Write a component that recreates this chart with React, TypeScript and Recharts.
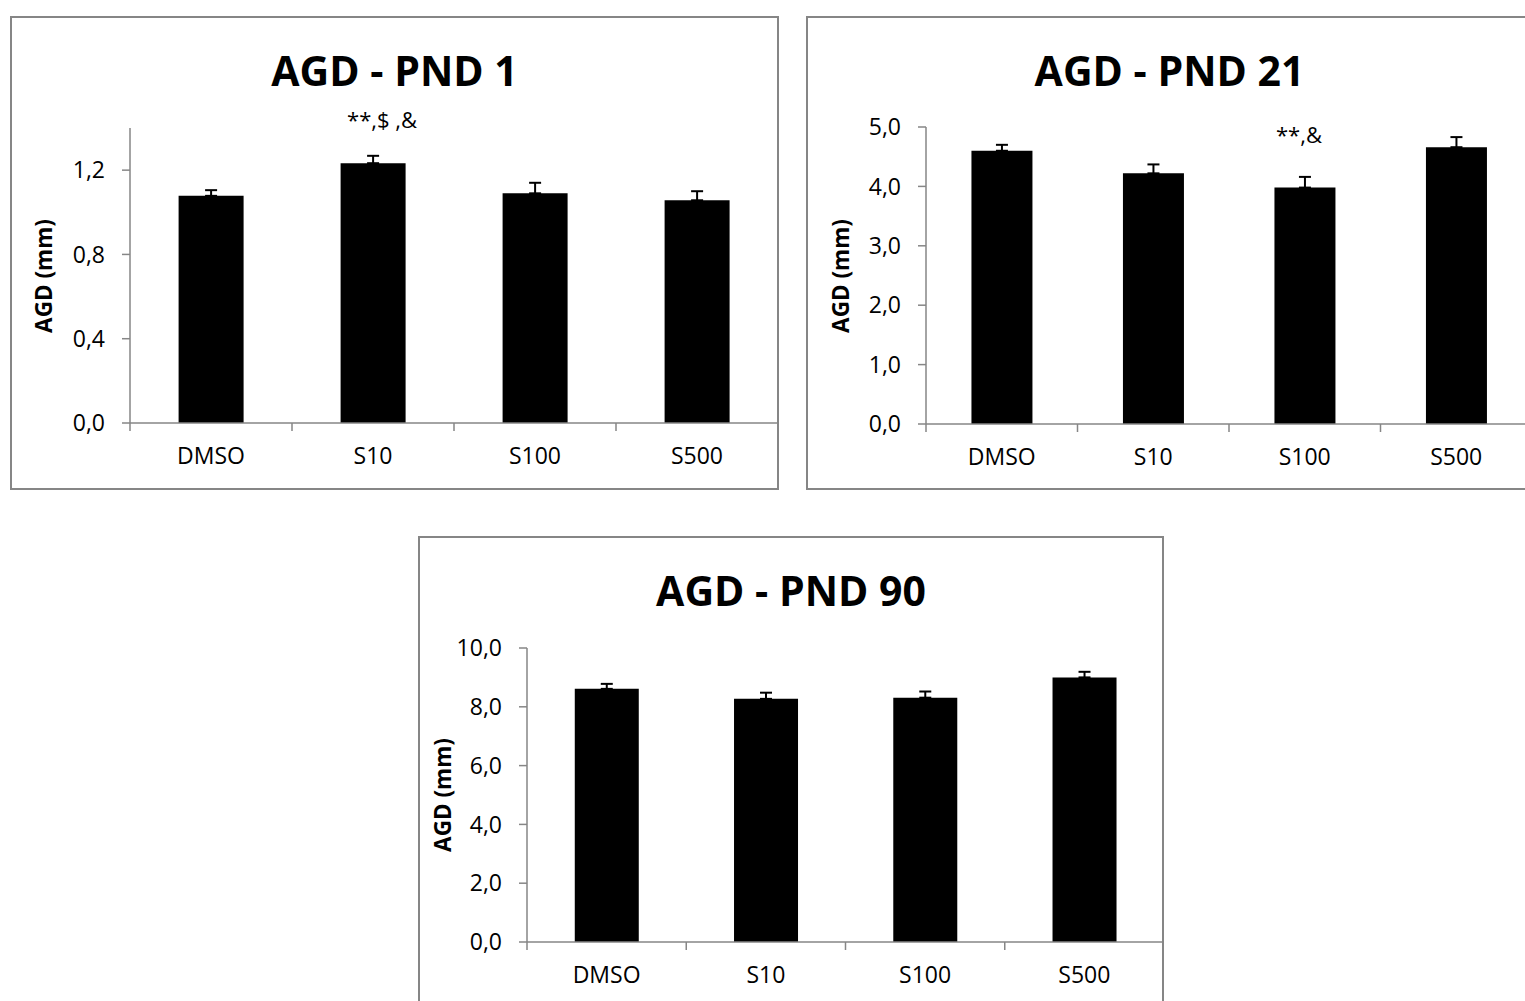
import React from 'react';
import { BarChart, Bar, XAxis, YAxis, ErrorBar, LabelList } from 'recharts';

const categories = ['DMSO', 'S10', 'S100', 'S500'];

const pnd1Means = [1.078, 1.233, 1.09, 1.057];
const pnd1Errors = [0.027, 0.035, 0.05, 0.043];
const pnd1Sig = ['', '**,$ ,&', '', ''];
const pnd1Ticks = [0, 0.4, 0.8, 1.2];

const pnd21Means = [4.6, 4.22, 3.98, 4.66];
const pnd21Errors = [0.1, 0.15, 0.18, 0.17];
const pnd21Sig = ['', '', '**,&', ''];
const pnd21Ticks = [0, 1, 2, 3, 4, 5];

const pnd90Means = [8.61, 8.27, 8.31, 9.0];
const pnd90Errors = [0.17, 0.21, 0.21, 0.19];
const pnd90Sig = ['', '', '', ''];
const pnd90Ticks = [0, 2, 4, 6, 8, 10];

const FONT = '"Open Sans", sans-serif';
const GREY = '#868686';
const TICK_SIZE = 23;

const buildRows = (means: number[], errors: number[], sig: string[]) =>
  categories.map((name, i) => ({ name, mean: means[i], err: [0, errors[i]], sig: sig[i] }));

const fmt = (v: number) => v.toFixed(1).replace('.', ',');

interface PanelProps {
  title: string;
  rows: any[];
  ticks: number[];
  yMax: number;
  box: { left: number; top: number; width: number; height: number };
  plot: { left: number; top: number; right: number; bottom: number };
  yLabelX: number;
  sigDy: number;
  sigDx: number;
}

const Panel = ({ title, rows, ticks, yMax, box, plot, yLabelX, sigDy, sigDx }: PanelProps) => {
  const yAxisWidth = 70;
  const xAxisHeight = 40;
  const margin = {
    top: plot.top - box.top,
    left: plot.left - box.left - yAxisWidth,
    right: box.left + box.width - plot.right,
    bottom: box.top + box.height - plot.bottom - xAxisHeight,
  };
  const half = (plot.right - plot.left) / categories.length / 2;

  const CatTick = (props: any) => {
    const { x, y, payload, index } = props;
    return (
      <g>
        {index === 0 && <line x1={x - half} x2={x - half} y1={y} y2={y + 8} stroke={GREY} strokeWidth={1.5} />}
        {index < categories.length - 1 && (
          <line x1={x + half} x2={x + half} y1={y} y2={y + 8} stroke={GREY} strokeWidth={1.5} />
        )}
        <text x={x} y={y + 35} textAnchor="middle" dominantBaseline="middle" fontSize={TICK_SIZE} fill="#000" fontFamily={FONT}>
          {payload.value}
        </text>
      </g>
    );
  };

  const SigLabel = (props: any) => {
    const { x, y, width, value } = props;
    if (!value) return null;
    return (
      <text x={x + width / 2 + sigDx} y={y + sigDy} textAnchor="middle" dominantBaseline="middle" fontSize={22} fill="#000" fontFamily={FONT}>
        {value}
      </text>
    );
  };

  return (
    <div style={{ position: 'absolute', left: box.left, top: box.top, width: box.width, height: box.height }}>
      <div
        style={{
          position: 'absolute',
          inset: 0,
          border: `2px solid ${GREY}`,
          boxSizing: 'border-box',
          pointerEvents: 'none',
        }}
      />
      <div
        style={{
          position: 'absolute',
          left: 0,
          right: 0,
          top: 54 - 26,
          textAlign: 'center',
          fontSize: 41,
          fontWeight: 700,
          lineHeight: '52px',
          fontFamily: FONT,
        }}
      >
        {title}
      </div>
      <div
        style={{
          position: 'absolute',
          left: yLabelX,
          top: (plot.top + plot.bottom) / 2 - box.top,
          transform: 'translate(-50%, -50%) rotate(-90deg)',
          fontSize: 22.5,
          fontWeight: 700,
          whiteSpace: 'nowrap',
          fontFamily: FONT,
        }}
      >
        AGD (mm)
      </div>
      <div style={{ position: 'absolute', left: 0, top: 0 }}>
        <BarChart width={box.width} height={box.height} data={rows} margin={margin} barCategoryGap="30%">
          <XAxis
            dataKey="name"
            height={xAxisHeight}
            axisLine={{ stroke: GREY, strokeWidth: 1.5 }}
            tickLine={false}
            tickSize={0}
            tickMargin={0}
            tick={<CatTick />}
            interval={0}
          />
          <YAxis
            width={yAxisWidth}
            domain={[0, yMax]}
            ticks={ticks}
            allowDataOverflow
            tickFormatter={fmt}
            axisLine={{ stroke: GREY, strokeWidth: 1.5 }}
            tickLine={{ stroke: GREY, strokeWidth: 1.5 }}
            tickSize={8}
            tickMargin={17}
            tick={{ fontSize: TICK_SIZE, fill: '#000', fontFamily: FONT }}
          />
          <Bar dataKey="mean" fill="#000" isAnimationActive={false}>
            <ErrorBar dataKey="err" width={6} strokeWidth={2} stroke="#000" direction="y" isAnimationActive={false} />
            <LabelList dataKey="sig" content={<SigLabel />} />
          </Bar>
        </BarChart>
      </div>
    </div>
  );
};

export default function App() {
  return (
    <div
      style={{
        position: 'fixed',
        left: 0,
        top: 0,
        width: 1525,
        height: 1001,
        overflow: 'hidden',
        background: '#fff',
        fontFamily: FONT,
      }}
    >
      <Panel
        title="AGD - PND 1"
        rows={buildRows(pnd1Means, pnd1Errors, pnd1Sig)}
        ticks={pnd1Ticks}
        yMax={1.4}
        box={{ left: 10, top: 16, width: 769, height: 474 }}
        plot={{ left: 130, top: 128, right: 778, bottom: 423 }}
        yLabelX={33}
        sigDy={-41}
        sigDx={9}
      />
      <Panel
        title="AGD - PND 21"
        rows={buildRows(pnd21Means, pnd21Errors, pnd21Sig)}
        ticks={pnd21Ticks}
        yMax={5}
        box={{ left: 806, top: 16, width: 727, height: 474 }}
        plot={{ left: 926, top: 127, right: 1532, bottom: 424 }}
        yLabelX={34}
        sigDy={-50}
        sigDx={-6}
      />
      <Panel
        title="AGD - PND 90"
        rows={buildRows(pnd90Means, pnd90Errors, pnd90Sig)}
        ticks={pnd90Ticks}
        yMax={10}
        box={{ left: 418, top: 536, width: 746, height: 473 }}
        plot={{ left: 527, top: 648, right: 1164, bottom: 942 }}
        yLabelX={24}
        sigDy={-40}
        sigDx={0}
      />
    </div>
  );
}
